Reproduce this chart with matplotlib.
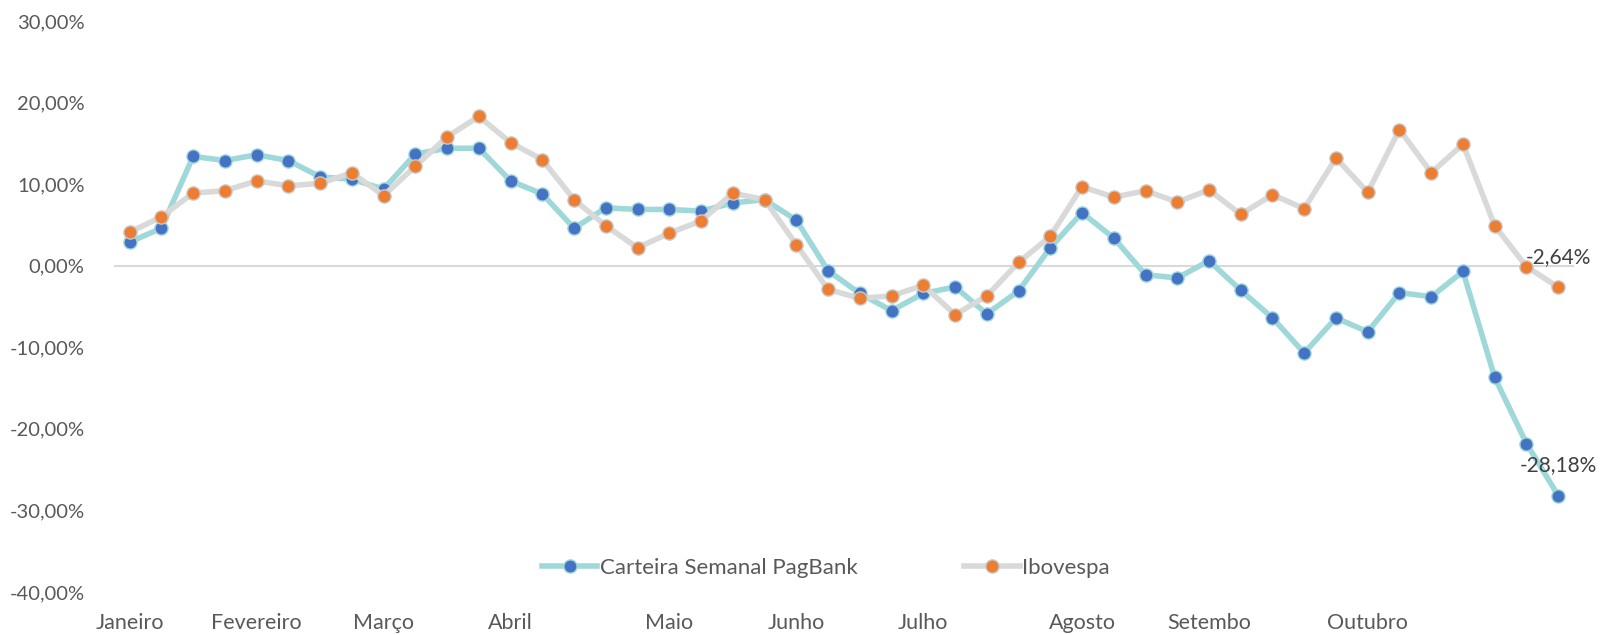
import matplotlib
matplotlib.use('Agg')
import matplotlib.pyplot as plt

plt.rcParams['font.family'] = ['Lato', 'DejaVu Sans']
plt.rcParams['font.size'] = 13

# ==================== dados (%, semanal) ====================
carteira = [2.9, 4.6, 13.4, 12.9, 13.6, 12.9, 10.9, 10.6, 9.4, 13.7,
            14.4, 14.4, 10.4, 8.8, 4.6, 7.1, 6.9, 6.9, 6.7, 7.7,
            8.1, 5.6, -0.6, -3.4, -5.5, -3.4, -2.6, -5.9, -3.1, 2.2,
            6.5, 3.4, -1.1, -1.5, 0.6, -3.0, -6.4, -10.7, -6.4, -8.1,
            -3.3, -3.8, -0.7, -13.7, -21.8, -28.18]
ibovespa = [4.1, 6.0, 8.9, 9.2, 10.4, 9.8, 10.1, 11.4, 8.6, 12.2,
            15.8, 18.3, 15.1, 13.0, 8.1, 4.9, 2.2, 4.0, 5.5, 8.9,
            8.1, 2.6, -2.9, -4.0, -3.7, -2.4, -6.0, -3.7, 0.4, 3.6,
            9.7, 8.4, 9.2, 7.8, 9.3, 6.3, 8.7, 7.0, 13.2, 9.0,
            16.7, 11.4, 14.9, 4.9, -0.1, -2.64]

month_labels = ['Janeiro', 'Fevereiro', 'Março', 'Abril', 'Maio', 'Junho',
                'Julho', 'Agosto', 'Setembo', 'Outubro']
month_index = [0, 4, 8, 12, 17, 21, 25, 30, 34, 39]

ytick_values = [-40, -30, -20, -10, 0, 10, 20, 30]
ytick_labels = ['-40,00%', '-30,00%', '-20,00%', '-10,00%', '0,00%',
                '10,00%', '20,00%', '30,00%']

series_names = ['Carteira Semanal PagBank', 'Ibovespa']
end_labels = ['-28,18%', '-2,64%']

# ==================== gráfico ====================
fig = plt.figure(figsize=(16, 6.35), dpi=100)
ax = fig.add_axes([0.0711, 0.0677, 0.9127, 0.8992])

x = list(range(len(carteira)))
text_color = '#595959'

ax.axhline(0, color='#D9D9D9', linewidth=1.5, zorder=1)

ax.plot(x, carteira, color='#9FD8D8', linewidth=4, marker='o', markersize=9.5,
        markerfacecolor='#4472C4', markeredgecolor='#9FD8D8', markeredgewidth=1,
        label=series_names[0], zorder=2)
ax.plot(x, ibovespa, color='#D9D9D9', linewidth=4, marker='o', markersize=9.5,
        markerfacecolor='#ED7D31', markeredgecolor='#C8C8C8', markeredgewidth=1,
        label=series_names[1], zorder=3)

# rótulos do último ponto
for serie, lab in zip([carteira, ibovespa], end_labels):
    ax.annotate(lab, (x[-1], serie[-1]), xytext=(0, 22), textcoords='offset points',
                ha='center', va='center', color='#404040', fontsize=15,
                annotation_clip=False)

ax.set_xlim(-0.5, len(carteira) - 0.5)
ax.set_ylim(-40, 30)
ax.set_yticks(ytick_values)
ax.set_yticklabels(ytick_labels)
ax.set_xticks(month_index)
ax.set_xticklabels(month_labels)
ax.tick_params(axis='y', length=0, pad=21, colors=text_color, labelsize=14.5)
ax.tick_params(axis='x', length=0, pad=15, colors=text_color, labelsize=15.5)
for s in ax.spines.values():
    s.set_visible(False)

leg = fig.legend(loc='center', bbox_to_anchor=(0.516, 0.1055), ncol=2,
                 frameon=False, handlelength=2.5, handletextpad=0.1,
                 columnspacing=4.8, fontsize=16)
for t in leg.get_texts():
    t.set_color(text_color)

plt.savefig('out.png', dpi=100)
